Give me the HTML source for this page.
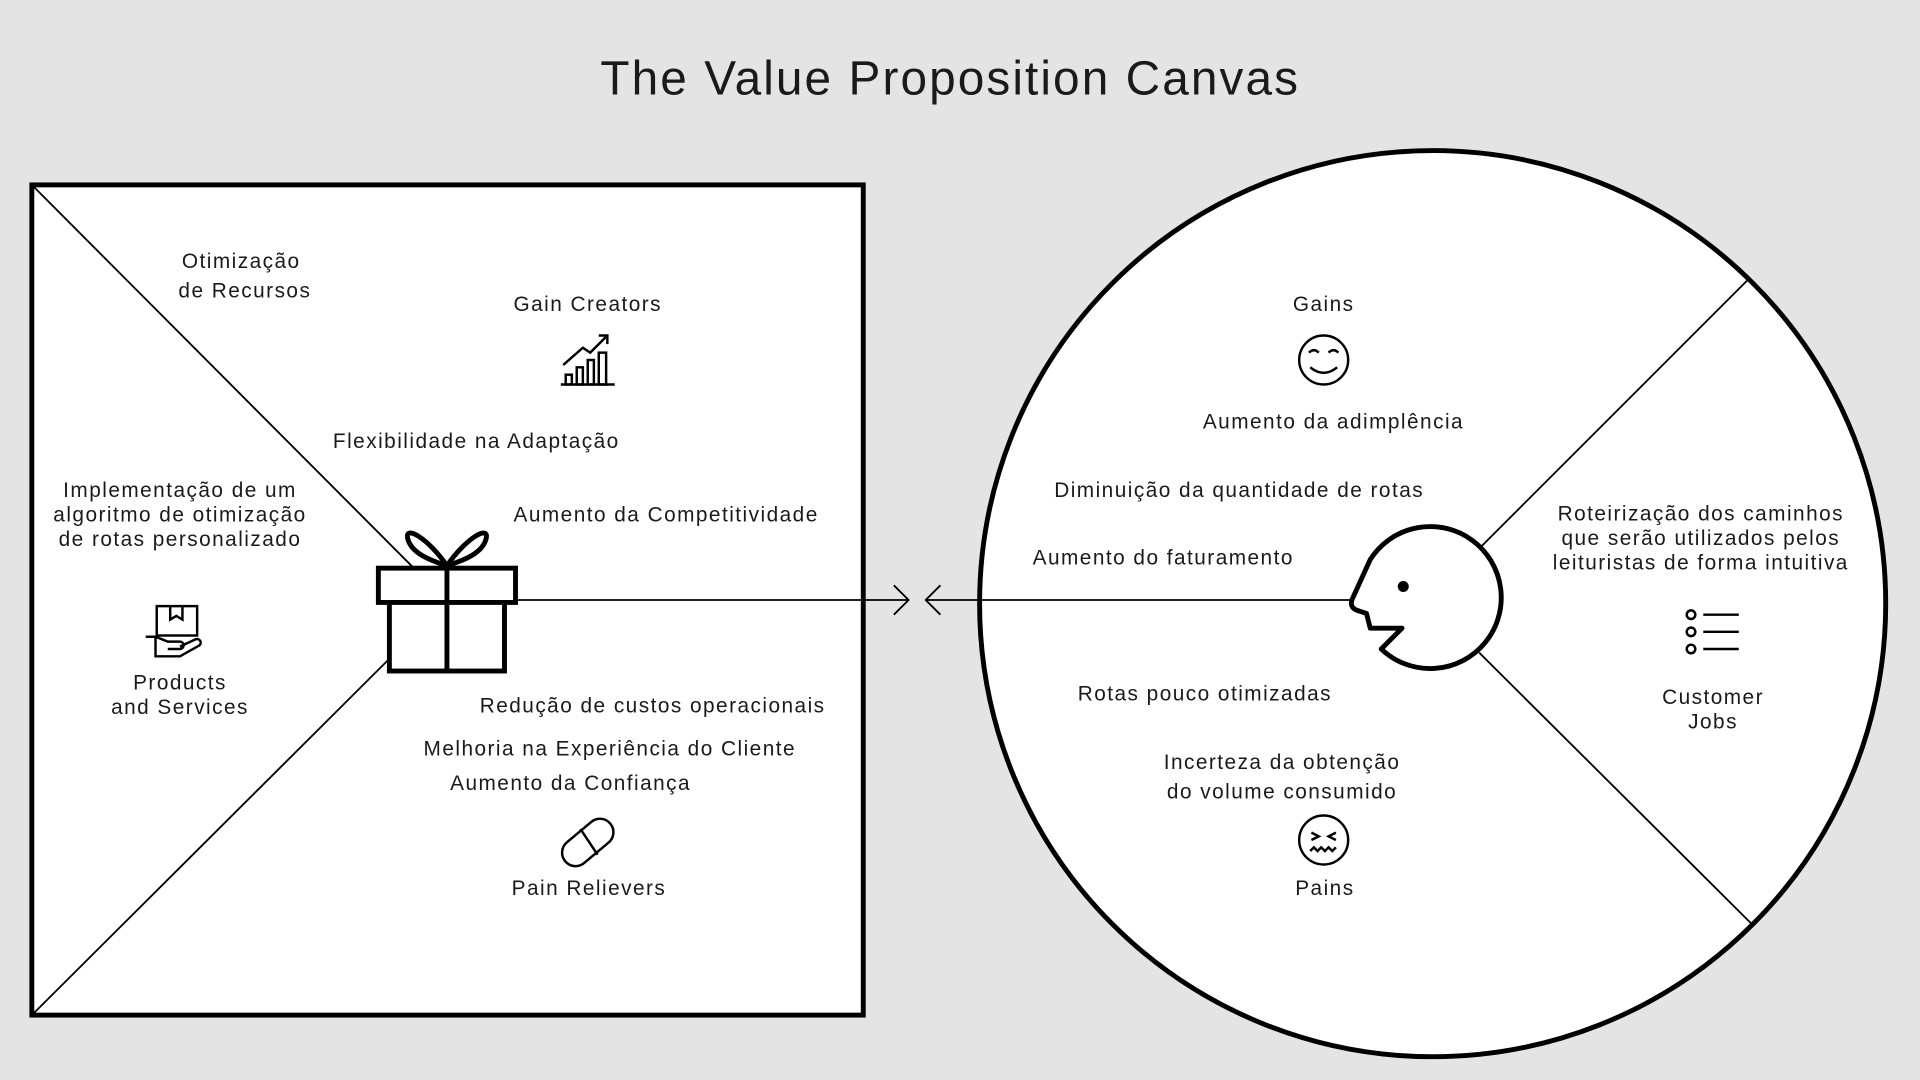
<!DOCTYPE html>
<html><head><meta charset="utf-8"><style>
html,body{margin:0;padding:0;background:#e4e4e4;}
svg{display:block;}
text{font-family:"Liberation Sans",sans-serif;fill:#1a1a1a;}
</style></head><body>
<svg width="1920" height="1080" viewBox="0 0 1568 882" preserveAspectRatio="none">
<rect width="1568" height="882" fill="#e4e4e4"/>
<text x="776" y="77" font-size="39" letter-spacing="1.7" text-anchor="middle">The Value Proposition Canvas</text>

<g>
<rect x="26" y="151" width="679" height="678" fill="#fff" stroke="#000" stroke-width="4"/>
<line x1="27" y1="152" x2="337" y2="463" stroke="#000" stroke-width="1.5"/>
<line x1="27" y1="828" x2="318" y2="538" stroke="#000" stroke-width="1.5"/>
</g>

<g>
<circle cx="1170" cy="493" r="370" fill="#fff" stroke="#000" stroke-width="4"/>
<line x1="1210" y1="446" x2="1427" y2="229" stroke="#000" stroke-width="1.5"/>
<line x1="1208" y1="533" x2="1430" y2="754" stroke="#000" stroke-width="1.5"/>
</g>

<g stroke="#000" stroke-width="1.5" fill="none">
<line x1="421" y1="490" x2="742" y2="490"/>
<polyline points="730,478 742,490 730,502"/>
<line x1="756" y1="490" x2="1104" y2="490"/>
<polyline points="768,478 756,490 768,502"/>
</g>

<g fill="none" stroke="#000" stroke-width="4">
<rect x="309" y="464" width="112" height="28" fill="#fff"/>
<rect x="318" y="492" width="94" height="56" fill="#fff"/>
<line x1="365" y1="464" x2="365" y2="548"/>
<path d="M365 462 C350 440 330 428 333 440 C336 452 352 458 365 462 C378 458 394 452 397 440 C400 428 380 440 365 462Z"/>
</g>

<g>
<path d="M1119 457 L1104 490 Q1102 497 1110 499 L1116 501 L1119 513 L1145 513 L1128 530 A58 58 0 1 0 1119 457 Z" fill="#fff" stroke="#000" stroke-width="4" stroke-linejoin="round"/>
<circle cx="1146" cy="479" r="4.5" fill="#000"/>
</g>

<g font-size="17" letter-spacing="1.2" text-anchor="middle">
<text x="197" y="219"><tspan x="197">Otimização</tspan><tspan x="200" dy="24">de Recursos</tspan></text>
<text x="480" y="254">Gain Creators</text>
<text x="389" y="366">Flexibilidade na Adaptação</text>
<text x="544" y="426">Aumento da Competitividade</text>
<text x="147" y="406"><tspan x="147">Implementação de um</tspan><tspan x="147" dy="20">algoritmo de otimização</tspan><tspan x="147" dy="20">de rotas personalizado</tspan></text>
<text x="147" y="563"><tspan x="147">Products</tspan><tspan x="147" dy="20">and Services</tspan></text>
<text x="533" y="582">Redução de custos operacionais</text>
<text x="498" y="617">Melhoria na Experiência do Cliente</text>
<text x="466" y="645">Aumento da Confiança</text>
<text x="481" y="731">Pain Relievers</text>

<text x="1081" y="254">Gains</text>
<text x="1089" y="350">Aumento da adimplência</text>
<text x="1012" y="406">Diminuição da quantidade de rotas</text>
<text x="950" y="461">Aumento do faturamento</text>
<text x="984" y="572">Rotas pouco otimizadas</text>
<text x="1047" y="628"><tspan x="1047">Incerteza da obtenção</tspan><tspan x="1047" dy="24">do volume consumido</tspan></text>
<text x="1082" y="731">Pains</text>
<text x="1389" y="425"><tspan x="1389">Roteirização dos caminhos</tspan><tspan x="1389" dy="20">que serão utilizados pelos</tspan><tspan x="1389" dy="20">leituristas de forma intuitiva</tspan></text>
<text x="1399" y="575"><tspan x="1399">Customer</tspan><tspan x="1399" dy="20">Jobs</tspan></text>
</g>

<g fill="none" stroke="#000" stroke-width="2">
<line x1="458" y1="314" x2="502" y2="314"/>
<rect x="462" y="306" width="5" height="8"/><rect x="471" y="300" width="5" height="14"/>
<rect x="480" y="294" width="5" height="20"/><rect x="489" y="288" width="6" height="26"/>
<polyline points="460,298 476,284 482,288 496,274"/><polyline points="489,274 496,274 496,281"/>
</g>
<g fill="none" stroke="#000" stroke-width="2">
<rect x="128" y="495" width="33" height="24"/>
<polyline points="139,495 139,506 144,503 149,506 149,495"/>
<path d="M119 520 h8 l10 4 h10 a3 3 0 0 1 0 6 h-10 M147 528 l13-6 a3 3 0 0 1 3 5 l-16 9 h-20 v-16"/>
</g>
<g fill="none" stroke="#000" stroke-width="2">
<rect x="456" y="677" width="48" height="22" rx="11" transform="rotate(-40 480 688)"/>
<line x1="474" y1="677" x2="488" y2="698"/>
</g>
<g fill="none" stroke="#000" stroke-width="2">
<circle cx="1081" cy="294" r="20"/>
<path d="M1069 288 q4 -4 8 0 M1085 288 q4 -4 8 0 M1070 300 q11 9 22 0"/>
</g>
<g fill="none" stroke="#000" stroke-width="2">
<circle cx="1081" cy="686" r="20"/>
<path d="M1071 680 l6 3 l-6 3 M1091 680 l-6 3 l6 3 M1070 695 l3 -3 l3 3 l3 -3 l3 3 l3 -3 l3 3 l3 -3"/>
</g>
<g fill="none" stroke="#000" stroke-width="2">
<circle cx="1381" cy="502" r="3.5"/><circle cx="1381" cy="516" r="3.5"/><circle cx="1381" cy="530" r="3.5"/>
<line x1="1391" y1="502" x2="1420" y2="502"/><line x1="1391" y1="516" x2="1420" y2="516"/><line x1="1391" y1="530" x2="1420" y2="530"/>
</g>
</svg>
</body></html>
